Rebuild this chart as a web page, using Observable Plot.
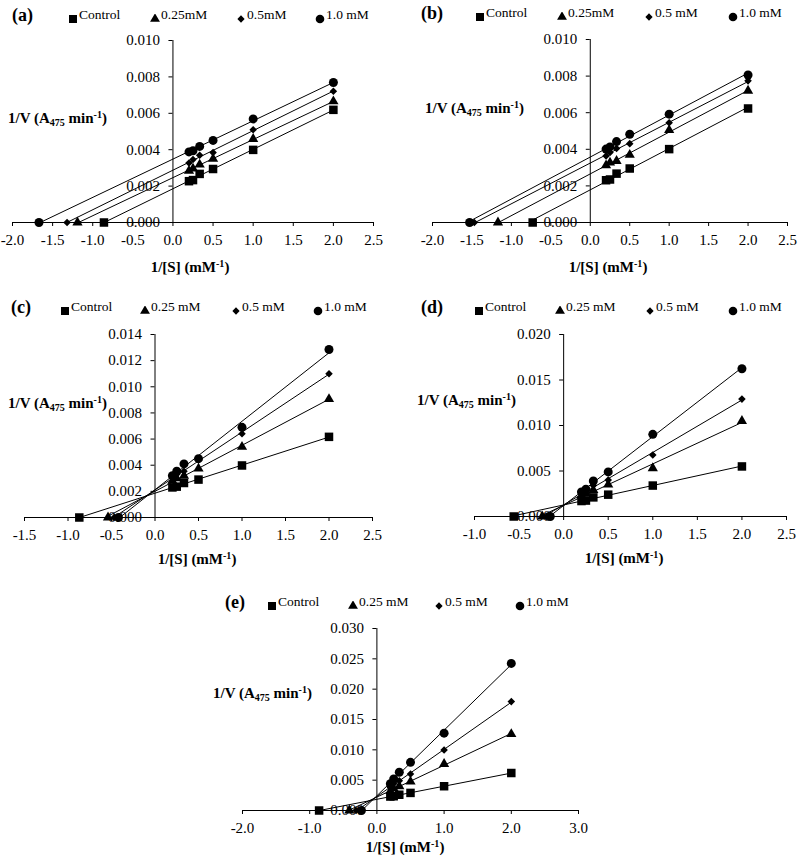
<!DOCTYPE html>
<html><head><meta charset="utf-8">
<script src="https://cdn.jsdelivr.net/npm/d3@7"></script>
<script src="https://cdn.jsdelivr.net/npm/@observablehq/plot@0.6"></script>
<style>
body{margin:0;background:#fff;}
#fig{position:relative;width:798px;height:862px;font-family:"Liberation Serif","Times New Roman",serif;color:#000;overflow:hidden;}
.panel{position:absolute;}
.panel svg{overflow:visible;}
.ttl{position:absolute;font-weight:bold;white-space:nowrap;font-size:15px;line-height:16px;}
.ttl sub{font-size:10px;vertical-align:-3px;line-height:0;}
.ttl sup{font-size:10px;vertical-align:5px;line-height:0;}
.plabel{position:absolute;font-weight:bold;font-size:18px;line-height:20px;white-space:nowrap;}
.leg{position:absolute;font-size:13.5px;line-height:16px;white-space:nowrap;}
.sym{position:absolute;}
</style></head><body><div id="fig"></div>
<script>
// ---------------- DATA ----------------
const xValues = [0.2, 0.25, 0.333, 0.5, 1.0, 2.0];            // 1/[S] (mM^-1)
const seriesKeys = ["Control", "0.25 mM", "0.5 mM", "1.0 mM"];

const legendA = ["Control", "0.25mM", "0.5mM", "1.0 mM"];
const legendB = ["Control", "0.25mM", "0.5 mM", "1.0 mM"];
const legendC = ["Control", "0.25 mM", "0.5 mM", "1.0 mM"];
const legendD = ["Control", "0.25 mM", "0.5 mM", "1.0 mM"];
const legendE = ["Control", "0.25 mM", "0.5 mM", "1.0 mM"];

// panel (a)
const aIntercepts = [-0.86, -1.19, -1.32, -1.67];
const aValues = [
  [0.00227, 0.00233, 0.00267, 0.00294, 0.00399, 0.00619],
  [0.00284, 0.00296, 0.00318, 0.00350, 0.00459, 0.00666],
  [0.00327, 0.00346, 0.00369, 0.00384, 0.00510, 0.00721],
  [0.00388, 0.00394, 0.00418, 0.00451, 0.00569, 0.00769]
];
// panel (b)
const bIntercepts = [-0.73, -1.17, -1.47, -1.53];
const bValues = [
  [0.00231, 0.00235, 0.00267, 0.00295, 0.00401, 0.00623],
  [0.00312, 0.00327, 0.00336, 0.00370, 0.00505, 0.00720],
  [0.00364, 0.00382, 0.00405, 0.00431, 0.00545, 0.00774],
  [0.00401, 0.00413, 0.00442, 0.00482, 0.00592, 0.00806]
];
// panel (c)
const cIntercepts = [-0.87, -0.54, -0.47, -0.42];
const cValues = [
  [0.00230, 0.00236, 0.00264, 0.00290, 0.00398, 0.00617],
  [0.00280, 0.00300, 0.00320, 0.00374, 0.00540, 0.00906],
  [0.00300, 0.00330, 0.00354, 0.00440, 0.00640, 0.01100],
  [0.00320, 0.00354, 0.00410, 0.00450, 0.00690, 0.01285]
];
// panel (d)
const dIntercepts = [-0.56, -0.24, -0.19, -0.15];
const dValues = [
  [0.00170, 0.00175, 0.00210, 0.00240, 0.00340, 0.00550],
  [0.00230, 0.00250, 0.00290, 0.00350, 0.00530, 0.01050],
  [0.00260, 0.00290, 0.00340, 0.00400, 0.00675, 0.01290],
  [0.00270, 0.00300, 0.00390, 0.00490, 0.00903, 0.01624]
];
// panel (e)
const eIntercepts = [-0.86, -0.41, -0.31, -0.23];
const eValues = [
  [0.00230, 0.00235, 0.00260, 0.00290, 0.00400, 0.00618],
  [0.00320, 0.00360, 0.00400, 0.00476, 0.00766, 0.01260],
  [0.00380, 0.00440, 0.00490, 0.00600, 0.00996, 0.01795],
  [0.00440, 0.00520, 0.00630, 0.00794, 0.01275, 0.02425]
];

// tick values
const abXTicks = [-2.0, -1.5, -1.0, -0.5, 0.0, 0.5, 1.0, 1.5, 2.0, 2.5];
const abYTicks = [0, 0.002, 0.004, 0.006, 0.008, 0.010];
const cXTicks = [-1.5, -1.0, -0.5, 0.0, 0.5, 1.0, 1.5, 2.0, 2.5];
const cYTicks = [0, 0.002, 0.004, 0.006, 0.008, 0.010, 0.012, 0.014];
const dXTicks = [-1.0, -0.5, 0.0, 0.5, 1.0, 1.5, 2.0, 2.5];
const dYTicks = [0, 0.005, 0.010, 0.015, 0.020];
const eXTicks = [-2.0, -1.0, 0.0, 1.0, 2.0, 3.0];
const eYTicks = [0, 0.005, 0.010, 0.015, 0.020, 0.025, 0.030];

// ---------------- STYLE / LAYOUT ----------------
const serif = '"Liberation Serif","Times New Roman",serif';
const markerSymbols = ["square", "triangle", "diamond2", "circle"];
const markerRadii = [4.8, 3.8, 3.4, 4.5];
const legendSymbols = [d3.symbolSquare, d3.symbolTriangle, d3.symbolDiamond2, d3.symbolCircle];
const legendSizes = [64, 42, 34, 58];

const panels = [
  {tag: "(a)", intercepts: aIntercepts, values: aValues, xt: abXTicks, yt: abYTicks, legend: legendA,
   box: [0, 0, 400, 290], m: [40, 27, 68, 12], tagPos: [12, 15], legY: 15, legX: [68, 150, 236, 315],
   yTitle: [8, 118], xTitle: [190, 267]},
  {tag: "(b)", intercepts: bIntercepts, values: bValues, xt: abXTicks, yt: abYTicks, legend: legendB,
   box: [400, 0, 398, 290], m: [39, 11, 68, 32], tagPos: [421, 13], legY: 13, legX: [475, 557, 644, 728],
   yTitle: [425, 108], xTitle: [608, 267]},
  {tag: "(c)", intercepts: cIntercepts, values: cValues, xt: cXTicks, yt: cYTicks, legend: legendC,
   box: [0, 290, 400, 290], m: [44, 28, 63, 24], tagPos: [11, 307], legY: 307, legX: [60, 140, 231, 313],
   yTitle: [8, 403], xTitle: [197, 559]},
  {tag: "(d)", intercepts: dIntercepts, values: dValues, xt: dXTicks, yt: dYTicks, legend: legendD,
   box: [400, 290, 398, 290], m: [44, 12, 64, 74], tagPos: [421, 307], legY: 307, legX: [474, 555, 645, 728],
   yTitle: [417, 400], xTitle: [624, 558]},
  {tag: "(e)", intercepts: eIntercepts, values: eValues, xt: eXTicks, yt: eYTicks, legend: legendE,
   box: [200, 580, 420, 282], m: [48, 42, 52, 42], tagPos: [225, 602], legY: 602, legX: [267, 348, 434, 515],
   yTitle: [213, 693], xTitle: [405, 847]}
];

const fig = document.getElementById("fig");

function rowsFor(p) {
  const rows = [];
  seriesKeys.forEach((k, i) => {
    rows.push({x: p.intercepts[i], y: 0, s: k});
    xValues.forEach((xv, j) => rows.push({x: xv, y: p.values[i][j], s: k}));
  });
  return rows;
}

function addHTML(cls, html, left, top, extra) {
  const el = document.createElement("div");
  el.className = cls;
  el.innerHTML = html;
  el.style.left = left + "px";
  el.style.top = top + "px";
  if (extra) Object.assign(el.style, extra);
  fig.appendChild(el);
  return el;
}

panels.forEach(p => {
  const rows = rowsFor(p);
  const [bx, by, bw, bh] = p.box;
  const [mt, mr, mb, ml] = p.m;
  const yMax = p.yt[p.yt.length - 1];
  const chart = Plot.plot({
    width: bw, height: bh,
    marginTop: mt, marginRight: mr, marginBottom: mb, marginLeft: ml,
    style: {fontFamily: serif, fontSize: "15px", color: "#000", background: "transparent", overflow: "visible"},
    x: {domain: [p.xt[0], p.xt[p.xt.length - 1]], ticks: p.xt, tickFormat: d => d.toFixed(1),
        tickSize: 4, tickPadding: 8, label: null},
    y: {domain: [0, yMax], axis: null},
    marks: [
      Plot.ruleY([0], {stroke: "#000", strokeWidth: 1}),
      Plot.ruleX([0], {stroke: "#000", strokeWidth: 1}),
      Plot.ruleY(p.yt, {y: d => d, x1: 0, x2: 0, insetLeft: -4, stroke: "#000"}),
      Plot.text(p.yt, {x: 0, y: d => d, text: d => d.toFixed(3), textAnchor: "end", dx: -13, fill: "#000"}),
      Plot.linearRegressionY(rows, {x: "x", y: "y", z: "s", stroke: "#000", strokeWidth: 1, ci: 0}),
      ...seriesKeys.map((k, i) => Plot.dot(rows.filter(r => r.s === k),
        {x: "x", y: "y", symbol: markerSymbols[i], r: markerRadii[i], fill: "#000", stroke: "none"}))
    ]
  });
  const wrap = document.createElement("div");
  wrap.className = "panel";
  wrap.style.left = bx + "px";
  wrap.style.top = by + "px";
  wrap.appendChild(chart);
  fig.appendChild(wrap);

  // panel tag
  addHTML("plabel", p.tag, p.tagPos[0], p.tagPos[1] - 10);
  // legend
  p.legend.forEach((lab, i) => {
    const sx = p.legX[i];
    const path = d3.symbol(legendSymbols[i], legendSizes[i])();
    addHTML("sym", `<svg width="10" height="10" viewBox="-5 -5 10 10"><path d="${path}" fill="#000"/></svg>`,
      sx, p.legY - 5);
    addHTML("leg", lab, sx + 11, p.legY - 8);
  });
  // axis titles
  addHTML("ttl", "1/V (A<sub>475</sub> min<sup>-1</sup>)", p.yTitle[0], p.yTitle[1] - 8);
  addHTML("ttl", "1/[S] (mM<sup>-1</sup>)", p.xTitle[0], p.xTitle[1] - 8, {transform: "translateX(-50%)"});
});
</script>
</body></html>
